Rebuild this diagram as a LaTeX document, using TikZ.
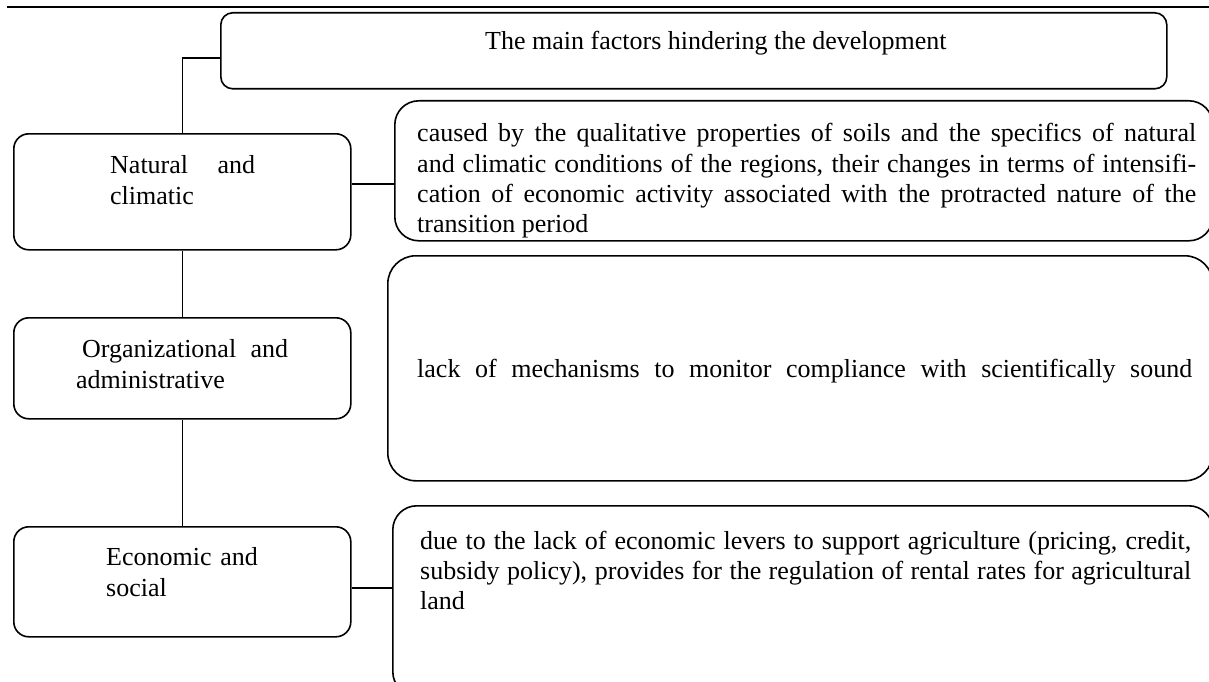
\documentclass[tikz,border=0pt]{standalone}
\usepackage{fontspec}
\setmainfont{Liberation Serif}
\usetikzlibrary{positioning}

\tikzset{
	factor/.style={draw, line width=1.6pt, rounded corners=15pt, minimum width=337pt, anchor=north west},
	descbox/.style={draw, line width=1.6pt, rounded corners=24pt, anchor=north west},
	factortext/.style={inner sep=0pt, anchor=base west, font=\fontsize{26}{31}\selectfont},
	desctext/.style={inner sep=0pt, anchor=base west, align=justify, font=\fontsize{26}{30}\selectfont},
	link/.style={line width=1.6pt}
}

\begin{document}
\begin{tikzpicture}[x=1pt,y=-1pt]

				\useasboundingbox (0,0) rectangle (1209,682);

				% Top rule
				\draw[line width=2.2pt] (7,7) -- (1209,7);

				% Title
				\node[descbox, rounded corners=12pt, minimum width=946pt, minimum height=76pt] (title) at (220,12) {};
				\node[factortext] (titletxt) at (485,50) {The main factors hindering the development};

				% Groups of factors
				\node[factor, minimum height=116pt] (nat) at (13,133) {};
				\node[factortext, text width=145pt, align=justify] (nattxt) at (110,173) {Natural and\linebreak climatic};

				\node[factor, minimum height=101pt] (org) at (13,317) {};
				\node[factortext, text width=212pt, align=justify] (orgtxt) at (76,357) {\hspace*{6pt}Organizational and\linebreak administrative};

				\node[factor, minimum height=110pt] (econ) at (13,526) {};
				\node[factortext, text width=160pt, align=left] (econtxt) at (106,565) {Economic and\\ social};

				% Descriptions
				\node[descbox, minimum width=818pt, minimum height=140pt] (natD) at (394,100) {};
				\node[desctext, text width=779pt] (natDtxt) at (417,142) {caused by the qualitative properties of soils and the specifics of natural\linebreak and climatic conditions of the regions, their changes in terms of intensifi-\linebreak cation of economic activity associated with the protracted nature of the\linebreak transition period};

				\node[descbox, rounded corners=28pt, minimum width=825pt, minimum height=225pt] (orgD) at (387,255) {};
				\node[desctext, text width=775pt] (orgDtxt) at (417,377) {{\parfillskip=0pt lack of mechanisms to monitor compliance with scientifically sound\par}};

				\node[descbox, minimum width=820pt, minimum height=190pt] (econD) at (392,505) {};
				\node[desctext, text width=771pt] (econDtxt) at (420,549) {due to the lack of economic levers to support agriculture (pricing, credit,\linebreak subsidy policy), provides for the regulation of rental rates for agricultural\linebreak land};

				% Connectors
				\draw[link] (nat.north) |- ([yshift=-7pt]title.west);
				\draw[link] (nat.south) -- (org.north);
				\draw[link] (org.south) -- (econ.north);
				\draw[link] ([yshift=8pt]nat.east) -- ([yshift=8pt]nat.east -| natD.west);
				\draw[link] ([yshift=-6pt]econ.east) -- ([yshift=-6pt]econ.east -| econD.west);

			\end{tikzpicture}
\end{document}
